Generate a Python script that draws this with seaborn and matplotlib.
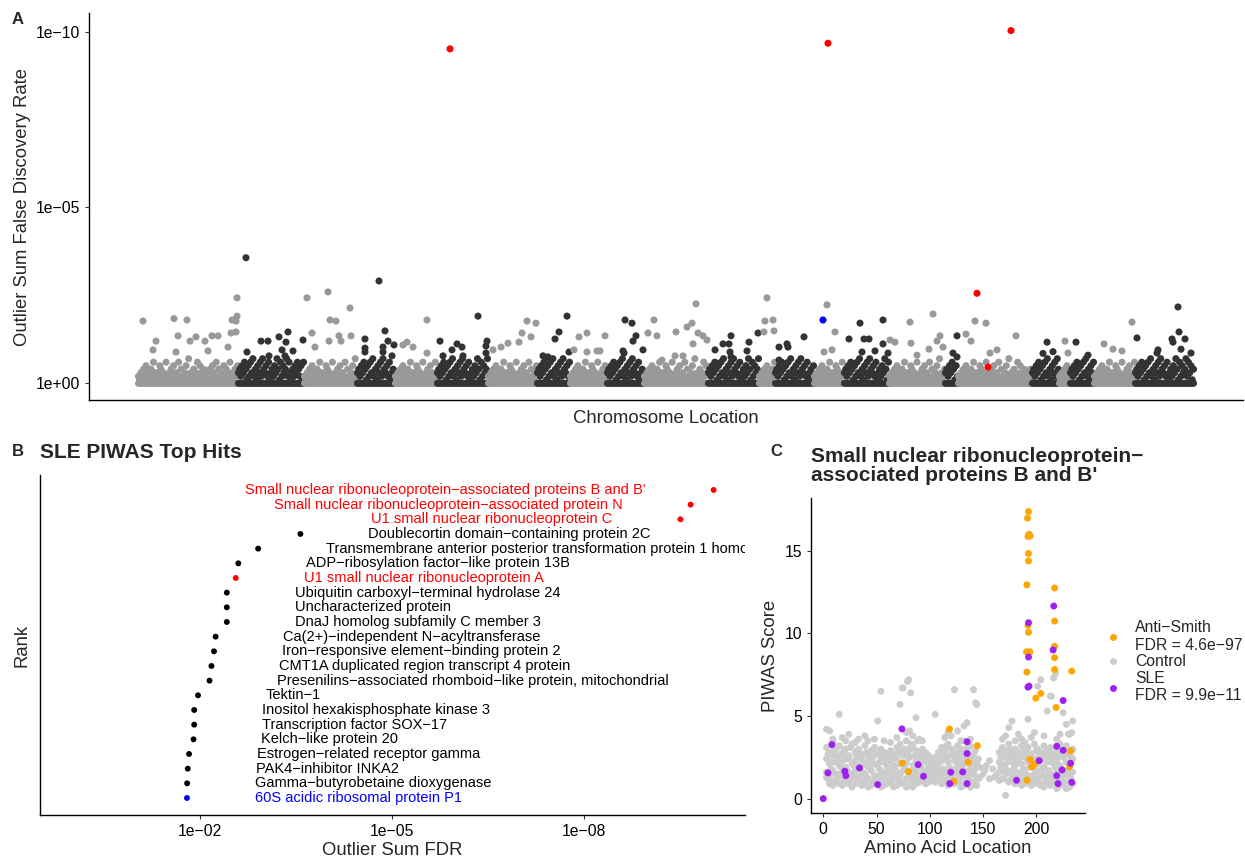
import numpy as np
import pandas as pd
import matplotlib
matplotlib.use("Agg")
import matplotlib.pyplot as plt
import seaborn as sns

M = "\u2212"  # ggplot prints hyphens as minus signs

# ---------------- panel A: genome-wide outlier sum FDR ----------------
# chromosome block edges along the genome (cumulative gene position)
chrom_edges = [0, 100, 166, 219, 257, 299, 350, 399, 432, 469, 506, 570, 621,
               637, 676, 706, 751, 807, 820, 894, 921, 932, 956, 997, 1056]
# genes per chromosome sitting at FDR = 1
chrom_null = [60, 40, 32, 23, 25, 31, 29, 20, 22, 22, 38, 31, 10, 23, 18, 27, 34, 8,
              44, 16, 7, 14, 25, 35]
# rest of the bulk per chromosome, -log10(FDR) in tenths, in genome order
chrom_bulk = [
    "21324153214263132541326213415232614213527132413625314213241532614231524136213425",
    "3425364152637241536274352613425374162534726314253642516",
    "213241532142631325413262134152326142135271",
    "342536415263724153627435261342",
    "2132415321426313254132621341523261",
    "34253641526372415362743526134253741625347",
    "213241532142631325413262134152326142135",
    "34253641526372415362743526",
    "213241532142631325413262134152",
    "342536415263724153627435261342",
    "213241532142631325413262134152326142135271324136253",
    "34253641526372415362743526134253741625347",
    "2132415321426",
    "3425364152637241536274352613425",
    "213241532142631325413262",
    "342536415263724153627435261342537416",
    "213241532142631325413262134152326142135271324",
    "3425364152",
    "21324153214263132541326213415232614213527132413625314213241",
    "3425364152637241536274",
    "213241532",
    "3425364152637241536",
    "213241532142631325413262134152326",
    "34253641526372415362743526134253741625347263514",
]
# genes standing out of the bulk: position, -log10(FDR)
out_pos = [5, 36, 49, 18, 40, 52, 58, 67, 74, 80, 15, 38, 99, 94, 98, 99, 93, 98, 90, 70,
           108, 123, 130, 141, 150, 148, 109, 144, 155, 131, 147, 165,
           169, 190, 212, 192, 198, 174, 191, 201, 203, 213, 177,
           241, 247, 227, 250, 256, 227, 227, 245, 245, 254,
           289, 269, 265, 275, 289,
           340, 302, 319, 324, 349, 314, 325, 348, 348, 305,
           389, 398, 384, 393, 381, 370, 363, 355,
           429, 421, 417, 431, 405, 410,
           441, 449, 467, 436, 449, 459, 462,
           487, 494, 498, 495, 505, 485, 486,
           516, 510, 519, 538, 524, 537, 558, 549, 554, 560, 565, 569, 555, 545,
           593, 611, 577, 585, 591, 592, 593, 609, 620,
           629, 627, 635, 626, 636,
           666, 649, 650, 641, 641,
           689, 697, 686, 694,
           722, 745, 711, 726, 731, 745, 724, 737, 750,
           772, 795, 752, 757, 773, 802, 799, 791, 805, 779,
           819, 815, 819,
           837, 848, 828, 833, 878, 852, 859,
           909, 905, 915,
           927, 930,
           938, 950,
           994, 966, 975, 984,
           1040, 1041, 999, 1034, 1047, 1035, 1043, 1053, 1020, 1019]
out_val = [1.77, 1.84, 1.80, 1.20, 1.35, 1.20, 1.32, 1.20, 1.35, 1.35, 0.95, 0.89, 2.43, 1.80, 1.77, 1.91, 1.43, 1.46, 1.03, 0.92,
           3.57, 1.20, 1.20, 1.32, 1.46, 1.17, 0.89, 0.95, 0.92, 0.78, 0.78, 1.23,
           2.43, 2.60, 2.14, 1.80, 1.77, 1.43, 1.20, 1.35, 1.20, 1.35, 1.03,
           2.91, 1.49, 1.26, 1.20, 1.09, 1.00, 0.89, 1.03, 0.89, 0.78,
           1.80, 1.17, 1.09, 1.03, 0.86,
           1.91, 1.20, 1.12, 1.03, 1.20, 0.95, 0.78, 1.06, 0.86, 0.78,
           1.77, 1.71, 1.43, 1.32, 1.17, 1.14, 1.03, 0.95,
           1.91, 1.46, 1.26, 0.89, 0.78, 0.75,
           1.32, 1.43, 1.35, 0.95, 0.89, 0.92, 0.92,
           1.80, 1.71, 1.35, 1.20, 0.95, 0.92, 0.86,
           1.80, 1.43, 1.35, 1.46, 0.66, 0.78, 2.26, 1.60, 1.71, 1.43, 1.35, 1.23, 1.12, 0.78,
           1.35, 1.17, 0.95, 1.12, 1.12, 0.89, 0.75, 0.92, 1.43,
           2.43, 1.77, 1.80, 1.46, 1.49,
           1.32, 1.12, 1.03, 1.03, 0.66,
           2.23, 1.46, 0.89, 0.95,
           1.71, 1.80, 1.26, 1.26, 1.26, 1.12, 0.89, 0.92, 0.86,
           1.74, 1.97, 1.23, 1.17, 1.14, 1.35, 1.20, 0.97, 1.03, 0.80,
           1.35, 0.86, 0.75,
           1.77, 1.71, 1.40, 1.20, 1.35, 0.86, 0.95,
           1.17, 0.85, 0.90,
           1.20, 0.86,
           1.17, 0.80,
           1.74, 1.12, 0.97, 0.92,
           2.17, 1.46, 1.29, 1.26, 1.26, 1.17, 0.97, 0.86, 0.95, 0.86]
# highlighted proteins in panel A (red = snRNP family, blue = ribosomal)
hl_pos = [312, 690, 873, 839, 850, 685]
hl_val = [9.51, 9.67, 10.03, 2.56, 0.46, 1.80]
hl_col = ["red", "red", "red", "red", "red", "blue"]
# red genes hidden in the bulk
hid_pos = [109, 742, 775]
hid_val = [0.15, 0.20, 0.24]

# ---------------- panel B: SLE PIWAS top hits ----------------
hit_names = [
    "60S acidic ribosomal protein P1",
    f"Gamma{M}butyrobetaine dioxygenase",
    f"PAK4{M}inhibitor INKA2",
    f"Estrogen{M}related receptor gamma",
    f"Kelch{M}like protein 20",
    f"Transcription factor SOX{M}17",
    "Inositol hexakisphosphate kinase 3",
    f"Tektin{M}1",
    f"Presenilins{M}associated rhomboid{M}like protein, mitochondrial",
    "CMT1A duplicated region transcript 4 protein",
    f"Iron{M}responsive element{M}binding protein 2",
    f"Ca(2+){M}independent N{M}acyltransferase",
    "DnaJ homolog subfamily C member 3",
    "Uncharacterized protein",
    f"Ubiquitin carboxyl{M}terminal hydrolase 24",
    "U1 small nuclear ribonucleoprotein A",
    f"ADP{M}ribosylation factor{M}like protein 13B",
    "Transmembrane anterior posterior transformation protein 1 homolog",
    f"Doublecortin domain{M}containing protein 2C",
    "U1 small nuclear ribonucleoprotein C",
    f"Small nuclear ribonucleoprotein{M}associated protein N",
    f"Small nuclear ribonucleoprotein{M}associated proteins B and B'",
]
hit_logfdr = [1.797, 1.80, 1.81, 1.83, 1.90, 1.91, 1.91, 1.97, 2.15, 2.18, 2.22,
              2.245, 2.42, 2.42, 2.42, 2.56, 2.60, 2.91, 3.57, 9.51, 9.67, 10.03]
hit_col = ["blue"] + ["black"] * 14 + ["red", "black", "black", "black", "red", "red", "red"]

# ---------------- panel C: SNRPB PIWAS profile ----------------
smith_aa = [192.5, 191.6, 193, 194, 192, 192.5, 192.5, 191, 192, 192.5, 190.7, 193.8, 191,
            199.4, 204, 217, 217, 217, 217, 217, 218.4, 233, 232, 231, 193.8, 195.6, 198,
            191, 118.4, 74, 80, 122.4, 135.8, 144.5]
smith_score = [17.38, 16.98, 16.0, 15.9, 15.87, 14.84, 14.39, 12.94, 10.49, 10.07, 8.89, 8.89, 7.66,
               6.08, 6.37, 12.75, 10.75, 9.22, 8.53, 7.82, 5.52, 7.72, 2.89, 1.92, 2.37, 1.92, 2.08,
               1.11, 4.22, 2.16, 1.64, 1.05, 2.20, 3.21]
sle_aa = [0, 4.4, 8.1, 20.2, 21.2, 34, 51, 73.8, 89, 94, 119.6, 118.7, 130.8, 134.9, 134.9,
          134.9, 181.3, 192.5, 192.5, 193, 192, 202.5, 215.6, 216.2, 225, 219, 225, 224, 219,
          220.2, 232, 233]
sle_score = [0, 1.56, 3.27, 1.66, 1.39, 1.86, 0.85, 4.22, 2.06, 1.35, 1.60, 0.91, 1.62, 3.44, 2.73,
             0.91, 1.11, 10.65, 8.57, 6.81, 6.75, 2.30, 9.0, 11.66, 5.94, 3.17, 2.93, 1.74, 1.39,
             0.91, 2.14, 0.99]
nan = np.nan
ctrl_aa = list(range(3, 235, 3))
ctrl_s1 = [1.3, 0.9, 0.8, 1.0, 0.9, 0.8, 1.0, 0.9, 0.7, 0.9,
           1.0, 0.8, 0.9, 0.7, 0.8, 1.0, 0.9, 0.7, 0.8, 0.9,
           1.0, 0.7, 0.8, 0.9, 1.0, 0.7, 0.8, 0.7, 0.9, 1.0,
           1.1, 0.9, 1.0, 1.2, 1.0, 1.3, 0.9, 1.1, 0.8, 0.9,
           0.9, 1.0, 0.7, 0.8, 0.9, 0.7, 0.9, 0.8, 1.3, 1.5,
           nan, 1.2, nan, 1.4, 1.1, 1.2, 0.2, 1.0, 1.2, 0.9,
           1.0, 0.8, 0.9, 1.1, 0.8, 0.9, 1.0, 0.8, 0.7, 0.9,
           0.8, 1.0, 0.6, 0.8, 0.9, 0.6, 0.7, 0.9]
ctrl_s2 = [1.6, 1.4, 1.7, 1.5, 1.3, 1.6, 1.2, 1.5, 1.4, 1.7,
           1.3, 1.6, 1.5, 1.2, 1.7, 1.4, 1.3, 1.5, 1.6, 1.2,
           1.5, 1.3, 1.6, 1.4, 1.7, 1.2, 1.5, 1.3, 1.6, 1.4,
           1.5, 1.7, 1.4, 1.6, 1.3, 1.7, 1.5, 1.6, 1.3, 1.5,
           1.4, 1.6, 1.3, 1.5, 1.2, 1.4, 1.6, 1.3, 1.9, nan,
           2.0, nan, 1.8, nan, 1.6, 1.8, 1.5, 1.6, 1.4, 1.3,
           1.5, 1.3, 1.6, 1.4, 1.2, 1.5, 1.3, 1.6, 1.4, 1.2,
           1.5, 1.3, 1.6, 1.2, 1.4, 1.5, 1.3, 1.6]
ctrl_s3 = [2.4, 2.1, 2.6, 2.2, 2.0, 2.3, 1.9, 2.5, 2.1, 2.3,
           2.0, 2.4, 2.2, 1.9, 2.3, 2.1, 2.0, 2.4, 2.2, 1.9,
           2.3, 2.0, 2.4, 2.1, 2.6, 2.2, 2.5, 2.0, 2.3, 2.1,
           2.4, 2.2, 1.9, 2.0, 1.8, 2.1, 2.3, 2.5, 2.2, 2.6,
           2.3, 2.1, 2.4, 2.2, 2.5, 2.0, 2.3, 2.1, nan, nan,
           nan, 2.3, nan, nan, 2.2, 2.5, 2.1, 2.4, 2.2, 2.0,
           2.3, 2.1, 2.5, 2.2, 2.0, 2.4, 2.1, 2.3, 1.9, 2.2,
           2.4, 2.1, 2.3, 2.0, 2.5, 2.2, 2.1, 2.4]
ctrl_s4 = [3.1, 2.8, 3.4, 2.9, 3.2, 2.7, 3.0, 2.6, 3.3, 2.8,
           3.0, 2.7, 3.2, 2.6, 2.9, 3.1, 2.7, 3.0, 2.8, 2.6,
           2.9, 2.7, 3.1, 3.3, 2.8, 3.5, 3.0, 3.2, 2.9, 2.7,
           3.0, 2.8, 2.6, 2.4, 2.5, 2.8, 3.1, 2.9, 3.3, 3.0,
           2.8, 3.2, 3.0, 3.5, 2.9, 3.2, 2.7, nan, nan, nan,
           nan, nan, nan, nan, 2.8, 3.1, 2.9, 3.3, 2.7, 3.0,
           2.8, 3.2, 2.9, 3.1, 2.7, 3.3, 3.0, 2.8, 3.2, 2.9,
           3.1, 2.7, 3.0, 3.3, 2.9, 3.2, 2.8, 3.0]
ctrl_s5 = [4.2, 4.1, 3.6, nan, 5.1, 3.7, 3.5, 3.9, nan, 3.4,
           3.6, nan, 3.8, 3.5, nan, 3.6, 4.7, 6.5, 3.5, nan,
           3.4, nan, 3.7, 5.7, 6.7, 4.0, 4.1, 3.8, 4.9, 3.6,
           3.5, nan, nan, nan, 5.1, nan, nan, 3.7, 4.0, 3.8,
           6.6, 4.1, 3.5, 4.4, 4.6, 3.6, 6.6, nan, nan, nan,
           nan, nan, nan, nan, nan, 3.6, 3.8, 4.3, 4.7, 3.5,
           3.9, 3.6, 3.4, 4.8, 3.7, 4.0, 6.8, 7.2, 3.8, 5.3,
           6.2, 7.3, 3.6, 3.9, 5.2, 4.5, 3.9, 4.7]
# second set of control peptides, offset half a step along the protein
ctrl_aa2 = [a + 1.5 for a in ctrl_aa[:-1]]
ctrl_s6 = [1.2, 1.8, 1.1, 1.4, 1.9, 1.0, 1.7, 1.2, 1.5, 1.1,
           1.8, 1.1, 1.3, 1.9, 1.0, 1.2, 1.8, 1.1, 1.4, 1.7,
           1.1, 1.8, 1.2, 1.0, 1.9, 1.3, 1.1, 1.8, 1.2, 1.9,
           1.2, 1.3, 1.5, 1.4, 1.6, 1.2, 1.8, 1.1, 1.9, 1.2,
           1.8, 1.1, 1.9, 1.2, 1.7, 1.0, 1.8, 1.2, nan, 1.7,
           nan, nan, 1.3, nan, 1.9, 1.2, 1.7, 1.1, 1.8, 1.6,
           1.1, 1.8, 1.2, 1.9, 1.1, 1.7, 1.2, 1.8, 1.0, 1.7,
           1.1, 1.9, 1.2, 1.8, 1.0, 1.7, 1.2]
ctrl_s7 = [2.7, 2.2, 3.0, 2.5, 2.3, 2.9, 2.4, 3.1, 2.0, 2.6,
           2.6, 2.1, 2.8, 2.3, 2.5, 2.7, 2.2, 2.6, 2.4, 2.3,
           2.6, 2.5, 2.8, 2.9, 3.0, 2.7, 3.3, 2.6, 3.5, 2.4,
           2.7, 2.5, 2.2, 2.3, 2.1, 2.4, 2.7, 3.2, 2.6, 2.9,
           2.6, 2.8, 2.7, 3.0, 3.3, 2.6, 2.9, 2.4, nan, nan,
           nan, nan, nan, nan, 2.5, 2.8, 2.6, 3.0, 2.4, 2.7,
           2.6, 2.8, 2.6, 2.7, 2.4, 2.9, 2.6, 2.7, 2.5, 2.6,
           2.7, 2.5, 2.6, 2.8, 2.6, 2.7, 2.5]
ctrl_extra_aa = [74, 79, 80, 82, 143, 144, 218, 214, 230, 233]
ctrl_extra = [6.7, 7.1, 7.2, 6.4, 5.8, 5.7, 7.6, 6.2, 3.9, 4.0]
group_labels = {"Anti-Smith": f"Anti{M}Smith\nFDR = 4.6e{M}97",
                "Control": "Control",
                "SLE": f"SLE\nFDR = 9.9e{M}11"}

# ---------------- style ----------------
sns.set_style("ticks")
plt.rcParams["font.family"] = ["Liberation Sans", "DejaVu Sans"]
plt.rcParams.update({"axes.linewidth": 1.0, "xtick.major.size": 3, "ytick.major.size": 3,
                     "xtick.color": "#333333", "ytick.color": "#333333",
                     "xtick.labelcolor": "black", "ytick.labelcolor": "black",
                     "xtick.labelsize": 11.3, "ytick.labelsize": 11.3,
                     "axes.labelsize": 13.3, "axes.edgecolor": "black"})

W, H = 1245, 859
fig = plt.figure(figsize=(W / 100, H / 100), dpi=100)


def px_axes(x0, y0, x1, y1):
    return fig.add_axes([x0 / W, 1 - y1 / H, (x1 - x0) / W, (y1 - y0) / H])


axA = px_axes(89, 13, 1243, 400)
axB = px_axes(40, 475, 745, 815)
axC = px_axes(811, 498, 1085, 813)

# ---- A ----
rows = []
for i, s in enumerate(chrom_bulk):
    lo, hi = chrom_edges[i], chrom_edges[i + 1]
    for x in np.linspace(lo + 0.5, hi - 0.5, chrom_null[i]):
        rows.append((x, 0.0))
    for x, ch in zip(np.linspace(lo + 0.5, hi - 0.5, len(s)), s):
        rows.append((x, int(ch) / 10))
bulk = pd.DataFrame(rows, columns=["pos", "val"])
outl = pd.DataFrame({"pos": out_pos, "val": out_val})
dfA = pd.concat([bulk, outl], ignore_index=True)
dfA["shade"] = (np.searchsorted(chrom_edges, dfA["pos"], side="right") - 1) % 2

sns.scatterplot(x=hid_pos, y=hid_val, color="red", s=26, linewidth=0, ax=axA)
sns.scatterplot(data=dfA, x="pos", y="val", hue="shade",
                palette={0: "#999999", 1: "#333333"}, s=26, linewidth=0,
                legend=False, ax=axA)
sns.scatterplot(x=hl_pos, y=hl_val, hue=hl_col, palette={"red": "red", "blue": "blue"},
                s=26, linewidth=0, legend=False, ax=axA)
axA.set_xlim(-49, 1105)
axA.set_ylim(-0.475, 10.53)
axA.set_xticks([])
axA.set_yticks([0, 5, 10], ["1e+00", f"1e{M}05", f"1e{M}10"])
axA.set_xlabel("Chromosome Location", labelpad=7)
axA.set_ylabel("Outlier Sum False Discovery Rate", labelpad=3)
sns.despine(ax=axA)

# ---- B ----
rank = np.arange(1, len(hit_names) + 1)
sns.scatterplot(x=hit_logfdr, y=rank, hue=hit_col,
                palette={"black": "black", "red": "red", "blue": "blue"},
                s=18, linewidth=0, legend=False, ax=axB)
for name, xv, yv, c in zip(hit_names, hit_logfdr, rank, hit_col):
    if xv > 9:
        axB.text(xv - 1.06, yv, name, color=c, fontsize=10.5, ha="right", va="center", clip_on=True)
    else:
        axB.text(xv + 1.06, yv, name, color=c, fontsize=10.5, ha="left", va="center", clip_on=True)
axB.set_xlim(-0.5, 10.52)
axB.set_ylim(-0.16, 23.02)
axB.set_xticks([2, 5, 8], [f"1e{M}02", f"1e{M}05", f"1e{M}08"])
axB.set_yticks([])
axB.set_xlabel("Outlier Sum FDR", labelpad=2)
axB.set_ylabel("Rank", labelpad=7)
axB.set_title("SLE PIWAS Top Hits", loc="left", fontsize=15, fontweight="bold", pad=12)
sns.despine(ax=axB)

# ---- C ----
ctrl_x = ctrl_aa * 5 + ctrl_aa2 * 2 + ctrl_extra_aa
ctrl_y = ctrl_s1 + ctrl_s2 + ctrl_s3 + ctrl_s4 + ctrl_s5 + ctrl_s6 + ctrl_s7 + ctrl_extra
dfC = pd.concat([
    pd.DataFrame({"aa": ctrl_x, "score": ctrl_y, "group": "Control"}),
    pd.DataFrame({"aa": smith_aa, "score": smith_score, "group": "Anti-Smith"}),
    pd.DataFrame({"aa": sle_aa, "score": sle_score, "group": "SLE"}),
], ignore_index=True).dropna()
dfC["group"] = dfC["group"].map(group_labels)
sns.scatterplot(data=dfC, x="aa", y="score", hue="group",
                hue_order=[group_labels[k] for k in ["Anti-Smith", "Control", "SLE"]],
                palette=["#FFA500", "#CCCCCC", "#A020F0"], s=25, linewidth=0, ax=axC)
axC.set_xlim(-11.5, 245.5)
axC.set_ylim(-0.87, 18.2)
axC.set_xticks([0, 50, 100, 150, 200])
axC.set_yticks([0, 5, 10, 15])
axC.set_xlabel("Amino Acid Location", labelpad=2)
axC.set_ylabel("PIWAS Score", labelpad=4)
axC.set_title(f"Small nuclear ribonucleoprotein{M}\nassociated proteins B and B'",
              loc="left", fontsize=15, fontweight="bold", pad=12, linespacing=1.05)
sns.despine(ax=axC)
sns.move_legend(axC, "center left", bbox_to_anchor=(0.995, 0.48), frameon=False,
                title=None, fontsize=11.3, handletextpad=0.4, labelspacing=0.1,
                markerscale=1.0)

# panel tags
for tag, x, y in [("A", 18, 20), ("B", 18, 451), ("C", 776, 451)]:
    fig.text(x / W, 1 - y / H, tag, fontsize=12, fontweight="bold", ha="center", va="center")

fig.savefig("out.png", dpi=100)
